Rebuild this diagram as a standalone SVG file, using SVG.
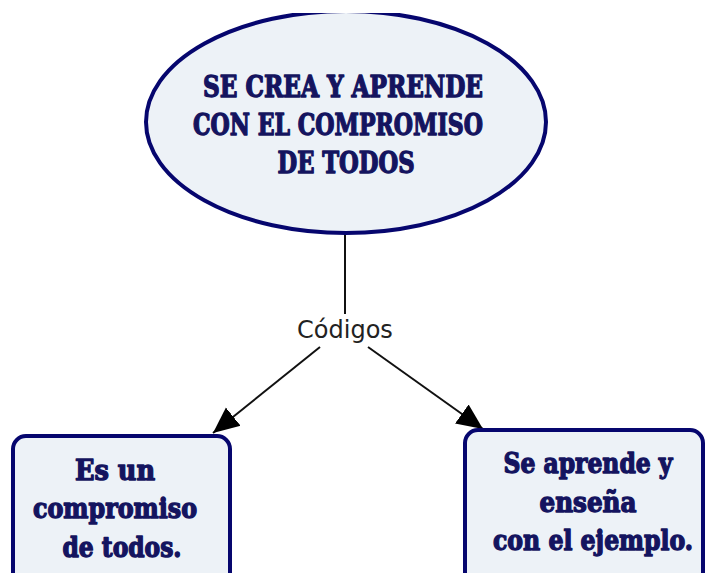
<svg xmlns="http://www.w3.org/2000/svg" width="706" height="573" viewBox="0 0 706 573">
  <style>
    .node { fill: #edf2f7; stroke: #06066e; stroke-width: 4; }
    .t { font-family: "DejaVu Serif", "Liberation Serif", serif; font-weight: bold; font-stretch: condensed; fill: #14145f; stroke: #14145f; stroke-width: 1.3; stroke-linejoin: round; text-anchor: middle; }
    .lbl { font-family: "DejaVu Sans", "Liberation Sans", sans-serif; font-size: 24px; fill: #222222; text-anchor: middle; }
    .edge { stroke: #111111; stroke-width: 2; fill: none; }
  </style>
  <defs>
    <clipPath id="clipTop"><rect x="0" y="13" width="706" height="560"/></clipPath>
    <marker id="arrowBig" viewBox="0 0 10 10" refX="10" refY="5" markerWidth="26" markerHeight="26" markerUnits="userSpaceOnUse" orient="auto">
      <path d="M0,0.5 L10,5 L0,9.5 z" fill="#000000"/>
    </marker>
  </defs>
  <rect x="0" y="0" width="706" height="573" fill="#ffffff"/>

  <g id="connectors">
    <line class="edge" x1="345" y1="233" x2="345" y2="314"/>
    <line class="edge" x1="320" y1="347" x2="213" y2="433" marker-end="url(#arrowBig)"/>
    <line class="edge" x1="368" y1="347" x2="483" y2="429" marker-end="url(#arrowBig)"/>
    <text class="lbl" x="345" y="338">Códigos</text>
  </g>

  <g id="node-main">
    <ellipse class="node" cx="346" cy="122" rx="200" ry="111" clip-path="url(#clipTop)"/>
    <text class="t" x="343" y="97" font-size="30" textLength="280" lengthAdjust="spacingAndGlyphs">SE CREA Y APRENDE</text>
    <text class="t" x="338" y="135" font-size="30" textLength="290" lengthAdjust="spacingAndGlyphs">CON EL COMPROMISO</text>
    <text class="t" x="346" y="173" font-size="30" textLength="137" lengthAdjust="spacingAndGlyphs">DE TODOS</text>
  </g>

  <g id="node-left">
    <rect class="node" x="13" y="436" width="217" height="160" rx="13"/>
    <text class="t" x="115" y="480" font-size="28" textLength="80" lengthAdjust="spacingAndGlyphs">Es un</text>
    <text class="t" x="115" y="518" font-size="28" textLength="164" lengthAdjust="spacingAndGlyphs">compromiso</text>
    <text class="t" x="122" y="557" font-size="28" textLength="119" lengthAdjust="spacingAndGlyphs">de todos.</text>
  </g>

  <g id="node-right">
    <rect class="node" x="465" y="430" width="238" height="170" rx="13"/>
    <text class="t" x="588" y="473" font-size="28" textLength="169" lengthAdjust="spacingAndGlyphs">Se aprende y</text>
    <text class="t" x="588" y="512" font-size="28" textLength="97" lengthAdjust="spacingAndGlyphs">enseña</text>
    <text class="t" x="593" y="550" font-size="28" textLength="200" lengthAdjust="spacingAndGlyphs">con el ejemplo.</text>
  </g>
</svg>
